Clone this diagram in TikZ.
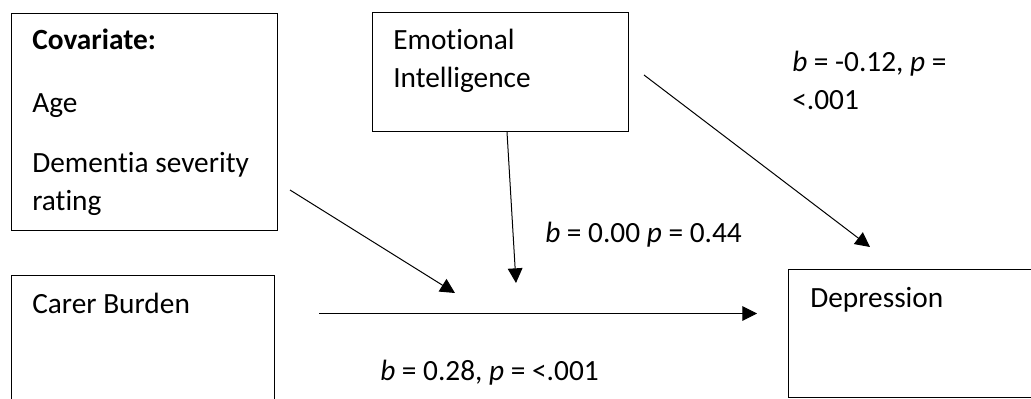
\documentclass[tikz,border=0pt]{standalone}
\usepackage{fontspec}
\setmainfont{Carlito}[Ligatures=CommonOff]
\usetikzlibrary{arrows.meta}
\begin{document}
\begin{tikzpicture}[x=0.75pt,y=-0.75pt,
  box/.style={draw, line width=1.1pt, inner sep=0pt, anchor=north west},
  txt/.style={inner sep=0pt, anchor=base west, font=\fontsize{22}{26}\selectfont},
  conn/.style={line width=0.75pt, -{Triangle[length=11pt,width=11pt]}}]
\useasboundingbox (0,0) rectangle (1031,399);
\clip (0,0) rectangle (1031,399);
% boxes
\node[box, minimum width=199.5pt, minimum height=162.75pt] (cov) at (11,13) {};
\node[box, minimum width=192pt, minimum height=89.25pt] (ei) at (372,12) {};
\node[box, minimum width=197.25pt, minimum height=108.75pt] (cb) at (11,275) {};
\node[box, minimum width=192.75pt, minimum height=96pt] (dep) at (788,269) {};
% texts
\node[txt] (covt) at (32,50) {\textbf{Covariate:}};
\node[txt] (age) at (32,113) {Age};
\node[txt] (dem) at (32,173) {Dementia severity};
\node[txt] (rat) at (32,210) {rating};
\node[txt] (eit1) at (393,50) {Emotional};
\node[txt] (eit2) at (393,88) {Intelligence};
\node[txt] (cbt) at (32,313) {Carer Burden};
\node[txt] (dept) at (810,307) {Depression};
\node[txt] (l1a) at (792,72) {\textit{b} = -0.12, \textit{p} =};
\node[txt] (l1b) at (792,110) {<.001};
\node[txt] (l2) at (545,242) {\textit{b} = 0.00 \textit{p} = 0.44};
\node[txt] (l3) at (380,380) {\textit{b} = 0.28, \textit{p} = <.001};
% connector end points
\coordinate (a1) at (290,190); \coordinate (a2) at (455,293);
\coordinate (b1) at (507,132); \coordinate (b2) at (516,283);
\coordinate (c1) at (644,75);  \coordinate (c2) at (870,247);
\coordinate (d1) at (319,313.5); \coordinate (d2) at (757,313.5);
\draw[conn] (a1) -- (a2);
\draw[conn] (b1) -- (b2);
\draw[conn] (c1) -- (c2);
\draw[conn] (d1) -- (d2);
\end{tikzpicture}
\end{document}
